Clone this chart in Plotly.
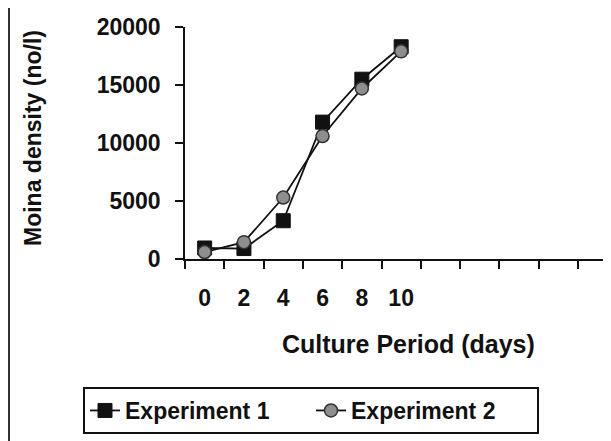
import plotly.graph_objects as go

days = ["0", "2", "4", "6", "8", "10"]
experiment_1 = [950, 900, 3300, 11800, 15500, 18300]
experiment_2 = [600, 1450, 5300, 10600, 14700, 17900]
y_ticks = [0, 5000, 10000, 15000, 20000]

pos = list(range(len(days)))

OFF = 8  # page body margin
W, H = 611, 441
L, R, T, B = 185 - OFF, 0, 27 - OFF, 0
ph = 259 - 27
B = H - T - ph
pw = W - L - R

def px_x(x):  # page px -> paper
    return (x - OFF - L) / pw

def px_y(y):
    return (T + ph - (y - OFF)) / ph

FONT = "Liberation Sans, Arial, sans-serif"
unit = 39.3
x_max = -0.5 + pw / unit

fig = go.Figure()
fig.add_trace(go.Scatter(
    x=pos, y=experiment_1, name="Experiment 1", mode="lines+markers",
    line=dict(color="#111111", width=1.8),
    marker=dict(symbol="square", size=14, color="#111111",
                line=dict(color="#111111", width=1)),
))
fig.add_trace(go.Scatter(
    x=pos, y=experiment_2, name="Experiment 2", mode="lines+markers",
    line=dict(color="#111111", width=1.8),
    marker=dict(symbol="circle", size=13, color="#8e8e8e",
                line=dict(color="#333333", width=1.5)),
))

fig.update_layout(
    width=W, height=H,
    margin=dict(l=L, r=R, t=T, b=B),
    paper_bgcolor="white", plot_bgcolor="white",
    font=dict(family=FONT, color="#111111", size=23),
    showlegend=True,
    legend=dict(
        orientation="h", x=px_x(83), y=px_y(387), xanchor="left", yanchor="top",
        bordercolor="#111111", borderwidth=2, bgcolor="white",
        font=dict(family=FONT, size=23, color="#111111", weight="bold"),
        entrywidth=181, entrywidthmode="pixels",
    ),
    xaxis=dict(
        range=[-0.5, x_max], tickmode="array", tickvals=pos, ticktext=days,
        ticks="outside", ticklen=0, showgrid=False, zeroline=False,
        showline=True, linecolor="#111111", linewidth=1.5,
        tickfont=dict(family=FONT, size=23, weight="bold"),
        ticklabelstandoff=18,
        minor=dict(tickmode="array", tickvals=[i - 0.5 for i in range(12)],
                   ticks="outside", ticklen=8, tickcolor="#111111", tickwidth=1.5,
                   showgrid=False),
    ),
    yaxis=dict(
        range=[0, 20000], tickmode="array", tickvals=y_ticks,
        ticktext=[str(v) for v in y_ticks],
        ticks="outside", ticklen=8, tickcolor="#111111", tickwidth=1.5,
        showgrid=False, zeroline=False,
        showline=True, linecolor="#111111", linewidth=1.5,
        tickfont=dict(family=FONT, size=23, weight="bold"),
        ticklabelstandoff=10,
    ),
    annotations=[
        dict(text="Culture Period (days)", xref="paper", yref="paper",
             x=px_x(408), y=px_y(344), xanchor="center", yanchor="middle",
             showarrow=False, font=dict(family=FONT, size=25, weight="bold")),
        dict(text="Moina density (no/l)", xref="paper", yref="paper",
             x=px_x(33), y=px_y(138), xanchor="center", yanchor="middle",
             textangle=-90, showarrow=False,
             font=dict(family=FONT, size=23, weight="bold")),
    ],
    shapes=[
        dict(type="line", xref="paper", yref="paper",
             x0=px_x(9), x1=px_x(9), y0=px_y(449), y1=px_y(OFF),
             line=dict(color="#333333", width=2)),
    ],
)

fig.write_html("out.html")
